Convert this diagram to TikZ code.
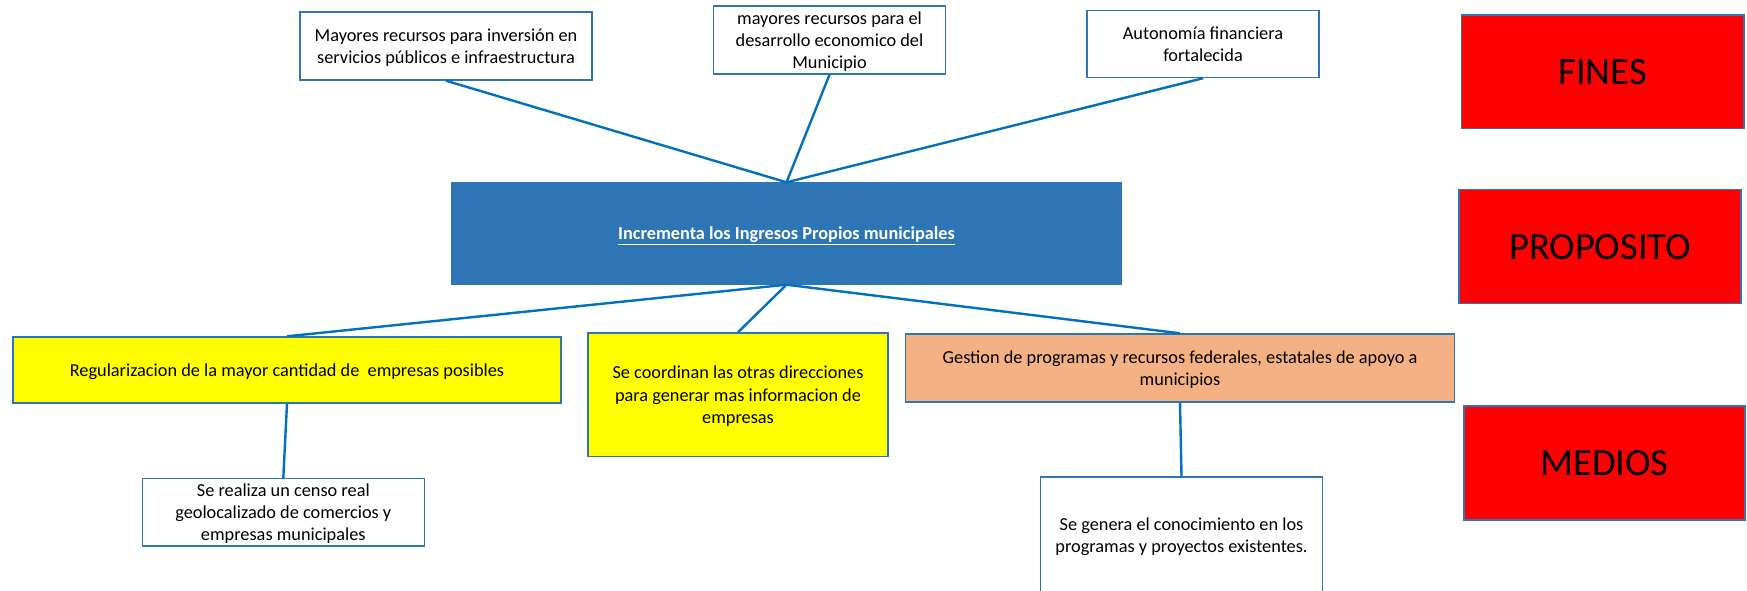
\documentclass[tikz,border=0pt]{standalone}
\usepackage{fontspec}
\setmainfont{Carlito}
\definecolor{linecol}{HTML}{0070C0}
\definecolor{bordcol}{HTML}{2E75B6}
\definecolor{cenfill}{HTML}{2E75B6}
\definecolor{redfill}{HTML}{FF0000}
\definecolor{yelfill}{HTML}{FFFF00}
\definecolor{orafill}{HTML}{F4B183}
\begin{document}
\begin{tikzpicture}[x=1pt,y=-1pt,
  box/.style={draw=bordcol, line width=1.4pt, inner sep=0pt, align=center,
    text depth=0pt, font=\fontsize{18.3}{22.3}\selectfont},
  wbox/.style={box, fill=white},
  ybox/.style={box, fill=yelfill},
  obox/.style={box, fill=orafill},
  rbox/.style={box, fill=redfill, font=\fontsize{38.5}{42}\selectfont},
  cbox/.style={box, fill=cenfill, text=white, font=\fontsize{18.3}{22.3}\bfseries\selectfont},
  conn/.style={draw=linecol, line width=2.4pt}]
\clip (0,0) rectangle (1747,590);
\fill[white] (0,0) rectangle (1747,590);

\node[wbox, minimum width=292pt, minimum height=68pt] (a) at (446,46)
  {Mayores recursos para inversión en\\servicios públicos e infraestructura};
\node[wbox, minimum width=232pt, minimum height=68pt] (b) at (829.5,40)
  {mayores recursos para el\\desarrollo economico del\\Municipio};
\node[wbox, minimum width=232pt, minimum height=67pt] (c) at (1203,44)
  {Autonomía financiera\\fortalecida};

\node[rbox, minimum width=282.5pt, minimum height=113.7pt] (fines) at (1602.7,71.8) {FINES};
\node[rbox, minimum width=282pt, minimum height=113.6pt] (prop) at (1600,246.5) {PROPOSITO};
\node[rbox, minimum width=281pt, minimum height=114pt] (medios) at (1604.5,463) {MEDIOS};

\node[cbox, minimum width=669pt, minimum height=101pt] (cen) at (786.5,233.5)
  {\underline{Incrementa los Ingresos Propios municipales}};

\node[ybox, minimum width=548pt, minimum height=66pt] (y1) at (287,370)
  {Regularizacion de la mayor cantidad de\ \ empresas posibles};
\node[ybox, minimum width=300pt, minimum height=123.5pt] (y2) at (738,394.7)
  {Se coordinan las otras direcciones\\para generar mas informacion de\\empresas};
\node[obox, minimum width=549.5pt, minimum height=68pt] (o) at (1180,368)
  {Gestion de programas y recursos federales, estatales de apoyo a\\municipios};

\node[wbox, minimum width=282pt, minimum height=67.3pt] (d) at (283.3,512.3)
  {Se realiza un censo real\\geolocalizado de comercios y\\empresas municipales};
\node[wbox, minimum width=282pt, minimum height=116pt] (e) at (1181.5,535)
  {Se genera el conocimiento en los\\programas y proyectos existentes.};

\draw[conn] (a.south) -- (cen.north);
\draw[conn] (b.south) -- (cen.north);
\draw[conn] (c.south) -- (cen.north);
\draw[conn] (cen.south) -- (y1.north);
\draw[conn] (cen.south) -- (y2.north);
\draw[conn] (cen.south) -- (o.north);
\draw[conn] (y1.south) -- (d.north);
\draw[conn] (o.south) -- (e.north);
\end{tikzpicture}
\end{document}
